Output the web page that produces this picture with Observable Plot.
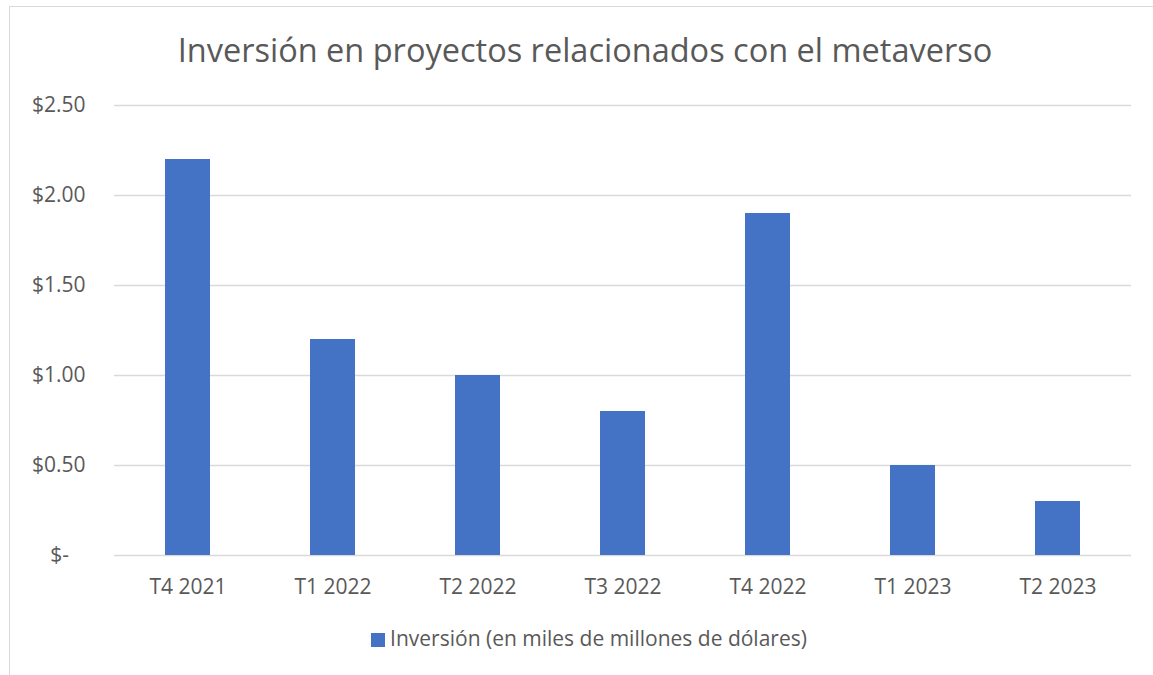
<!DOCTYPE html>
<html>
<head>
<meta charset="utf-8">
<script src="https://cdn.jsdelivr.net/npm/d3@7"></script>
<script src="https://cdn.jsdelivr.net/npm/@observablehq/plot@0.6"></script>
<style>
  html, body { margin: 0; padding: 0; background: #fff; width: 1153px; height: 675px; overflow: hidden; }
  body { font-family: "Open Sans", sans-serif; color: #595959; position: relative; }
  #frame { position: absolute; left: 9px; top: 6px; width: 1200px; height: 720px; border: 1px solid #d9d9d9; box-sizing: border-box; }
  #title { position: absolute; left: 0; width: 1170px; top: 30px; text-align: center; font-size: 32.5px; line-height: 40px; color: #595959; }
  #chart { position: absolute; left: 0; top: 0; }
  #legend { position: absolute; left: 0; width: 1178px; top: 625px; text-align: center; font-size: 21px; line-height: 26px; color: #595959; }
  #legend .sw { display: inline-block; width: 14px; height: 14px; background: #4472C4; margin-right: 5px; vertical-align: -1px; }
</style>
</head>
<body>
<div id="frame"></div>
<div id="chart"></div>
<div id="title">Inversión en proyectos relacionados con el metaverso</div>
<div id="legend"><span class="sw"></span>Inversión (en miles de millones de dólares)</div>
<script>
const categories = ["T4 2021", "T1 2022", "T2 2022", "T3 2022", "T4 2022", "T1 2023", "T2 2023"];
const values = [2.2, 1.2, 1.0, 0.8, 1.9, 0.5, 0.3];
const yTicks = [0, 0.5, 1.0, 1.5, 2.0, 2.5];
const seriesName = "Inversión (en miles de millones de dólares)";

const data = categories.map((c, i) => ({category: c, value: values[i]}));

const fmt = v => v === 0 ? "$-\u00a0\u00a0\u00a0" : "$" + v.toFixed(2);

const plot = Plot.plot({
  width: 1153,
  height: 600,
  marginLeft: 114,
  marginRight: 22,
  marginTop: 105,
  marginBottom: 45,
  style: { fontFamily: "'Open Sans', sans-serif", fontSize: "21px", color: "#595959", background: "transparent" },
  x: { domain: categories, paddingInner: 0.69, paddingOuter: 0.345, label: null },
  y: { domain: [0, 2.5], ticks: yTicks, label: null },
  marks: [
    Plot.ruleY(yTicks, { stroke: "#d9d9d9", strokeWidth: 1.5 }),
    Plot.barY(data, { x: "category", y: "value", fill: "#4472C4" }),
    Plot.axisY({ ticks: yTicks, tickFormat: fmt, tickSize: 0, tickPadding: 29, label: null, fill: "#595959" }),
    Plot.axisX({ tickSize: 0, tickPadding: 24, label: null, fill: "#595959" })
  ]
});
document.getElementById("chart").appendChild(plot);
</script>
</body>
</html>
